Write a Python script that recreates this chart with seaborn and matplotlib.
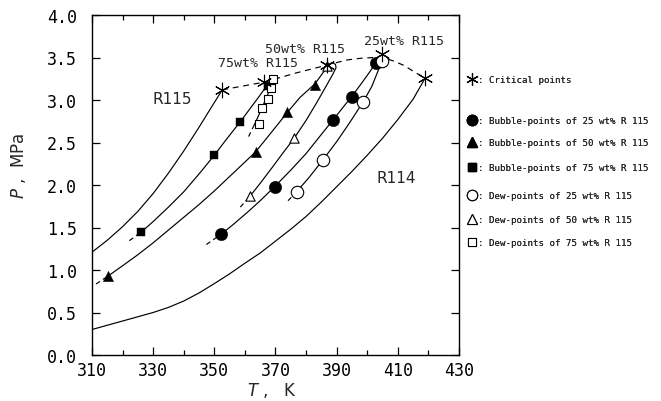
import numpy as np
import pandas as pd
import matplotlib
matplotlib.use("Agg")
import matplotlib.pyplot as plt
import seaborn as sns
from matplotlib.lines import Line2D

# ---------------- data ----------------
# pure-component vapour pressure curves
r115_T = [310, 315, 320, 325, 330, 335, 340, 345, 350, 352.6]
r115_P = [1.21, 1.35, 1.51, 1.69, 1.90, 2.14, 2.40, 2.68, 2.97, 3.12]
r114_T = [310, 315, 320, 325, 330, 335, 340, 345, 350, 355, 360, 365, 370, 375,
          380, 385, 390, 395, 400, 405, 410, 415, 418.9]
r114_P = [0.30, 0.35, 0.40, 0.45, 0.50, 0.56, 0.635, 0.73, 0.84, 0.955, 1.08, 1.20,
          1.34, 1.48, 1.63, 1.80, 1.98, 2.16, 2.35, 2.55, 2.77, 3.01, 3.255]

# mixture envelopes (bubble branch and dew branch, each from low end to top)
b25_T = [347.4, 352.2, 356.0, 361.0, 365.0, 369.7, 375.0, 380.0, 385.0, 388.9,
         392.0, 394.9, 398.0, 400.5, 402.9, 404.5, 405.5]
b25_P = [1.30, 1.42, 1.53, 1.685, 1.815, 1.98, 2.175, 2.37, 2.595, 2.77,
         2.91, 3.04, 3.19, 3.315, 3.44, 3.51, 3.53]
d25_T = [374.1, 376.9, 381.0, 385.6, 390.0, 394.0, 398.7, 401.5, 403.5, 404.7, 405.4, 405.5]
d25_P = [1.815, 1.92, 2.09, 2.30, 2.51, 2.72, 2.98, 3.16, 3.34, 3.46, 3.52, 3.53]

b50_T = [311.3, 315.3, 320.0, 325.0, 330.0, 335.0, 340.0, 345.0, 350.0, 355.0, 360.0,
         363.5, 368.0, 373.9, 378.0, 382.9, 385.5, 387.2, 388.4]
b50_P = [0.835, 0.93, 1.05, 1.18, 1.32, 1.47, 1.62, 1.77, 1.93, 2.10, 2.27,
         2.39, 2.59, 2.855, 3.03, 3.19, 3.32, 3.40, 3.44]
d50_T = [358.5, 361.7, 365.0, 369.0, 372.5, 376.1, 380.0, 383.5, 386.5, 388.7, 389.8, 389.6, 388.4]
d50_P = [1.74, 1.87, 2.02, 2.21, 2.38, 2.55, 2.76, 2.97, 3.16, 3.30, 3.38, 3.42, 3.44]

b75_T = [322.2, 326.0, 330.0, 335.0, 340.0, 345.0, 350.0, 354.0, 358.4, 361.5,
         364.2, 366.2, 367.7, 368.7, 369.3]
b75_P = [1.345, 1.443, 1.57, 1.74, 1.92, 2.13, 2.35, 2.54, 2.74, 2.89,
         3.02, 3.12, 3.19, 3.25, 3.28]
d75_T = [361.2, 363.5, 365.5, 367.3, 368.6, 369.3, 369.3]
d75_P = [2.57, 2.74, 2.90, 3.05, 3.17, 3.26, 3.28]

# measured points
bub25_T = [352.2, 369.7, 388.9, 394.9, 402.9]
bub25_P = [1.42, 1.98, 2.77, 3.04, 3.44]
bub50_T = [315.3, 363.5, 373.9, 382.9]
bub50_P = [0.93, 2.385, 2.855, 3.18]
bub75_T = [326.0, 349.9, 358.4, 367.7]
bub75_P = [1.443, 2.35, 2.74, 3.17]
dew25_T = [376.9, 385.6, 398.7, 404.7]
dew25_P = [1.92, 2.30, 2.98, 3.46]
dew50_T = [361.7, 376.1, 386.8]
dew50_P = [1.87, 2.55, 3.40]
dew75_T = [364.6, 365.5, 367.7, 368.6, 369.2]
dew75_P = [2.72, 2.91, 3.01, 3.14, 3.25]

# critical points and critical locus
crit_T = [352.6, 366.3, 386.8, 404.7, 418.9]
crit_P = [3.12, 3.21, 3.41, 3.54, 3.255]
locus_T = [352.6, 366.3, 376.9, 386.8, 393.2, 397.6, 402.0, 405.0, 408.5, 411.8, 415.0, 418.9]
locus_P = [3.12, 3.21, 3.32, 3.41, 3.47, 3.49, 3.50, 3.50, 3.46, 3.41, 3.34, 3.255]

x_ticks = [310, 330, 350, 370, 390, 410, 430]
y_ticks = [0.0, 0.5, 1.0, 1.5, 2.0, 2.5, 3.0, 3.5, 4.0]

curve_labels = ["R115", "75wt% R115", "50wt% R115", "25wt% R115", "R114"]
curve_label_T = [336.2, 364.3, 379.7, 411.9, 409.6]
curve_label_P = [3.02, 3.44, 3.61, 3.70, 2.09]

legend_labels = [": Critical points",
                 ": Bubble-points of 25 wt% R 115",
                 ": Bubble-points of 50 wt% R 115",
                 ": Bubble-points of 75 wt% R 115",
                 ": Dew-points of 25 wt% R 115",
                 ": Dew-points of 50 wt% R 115",
                 ": Dew-points of 75 wt% R 115"]

# ---------------- plotting ----------------
sns.set_theme(style="ticks")
plt.rcParams["font.family"] = ["DejaVu Sans"]
plt.rcParams["axes.linewidth"] = 1.0

fig = plt.figure(figsize=(6.61, 4.02), dpi=100)
ax = fig.add_axes([92 / 661, 46 / 402, 367 / 661, 340 / 402])

LW = 0.85
start_dash = (0, (4, 3, 3000, 1))

def line(T, P, ls="-"):
    sns.lineplot(x=T, y=P, ax=ax, sort=False, estimator=None, color="black",
                 linewidth=LW, linestyle=ls, legend=False)

line(r115_T, r115_P)
line(r114_T, r114_P)
for T, P in [(b25_T, b25_P), (d25_T, d25_P), (b50_T, b50_P), (d50_T, d50_P),
             (b75_T, b75_P), (d75_T, d75_P)]:
    line(T, P, start_dash)
line(locus_T, locus_P, (0, (5, 4)))

def pts(T, P, marker, s, filled, lw=0.8):
    if filled:
        sns.scatterplot(x=T, y=P, ax=ax, marker=marker, s=s, color="black",
                        edgecolor="black", linewidth=0.3, zorder=5, legend=False)
    else:
        sns.scatterplot(x=T, y=P, ax=ax, marker=marker, s=s, color="white",
                        edgecolor="black", linewidth=lw, zorder=5, legend=False)

pts(bub25_T, bub25_P, "o", 80, True)
pts(bub50_T, bub50_P, "^", 55, True)
pts(bub75_T, bub75_P, "s", 32, True)
pts(dew25_T, dew25_P, "o", 80, False)
pts(dew50_T, dew50_P, "^", 45, False)
pts(dew75_T, dew75_P, "s", 28, False)
ast = (6, 2, 0)
sns.scatterplot(x=crit_T, y=crit_P, ax=ax, marker=ast, s=110, color="black",
                edgecolor="black", linewidth=0.8, zorder=6, legend=False)

for s, T, P in zip(curve_labels, curve_label_T, curve_label_P):
    fs = 11 if s in ("R115", "R114") else 9.5
    fam = "DejaVu Sans" if s in ("R115", "R114") else "DejaVu Sans Mono"
    ax.text(T, P, s, ha="center", va="center", fontsize=fs, family=fam)

ax.set_xlim(310, 430)
ax.set_ylim(0, 4)
ax.set_xticks(x_ticks)
ax.set_xticks(np.arange(310, 431, 10), minor=True)
ax.set_yticks(y_ticks)
ax.set_xticklabels([str(v) for v in x_ticks], family="DejaVu Sans Mono", fontsize=12)
ax.set_yticklabels([f"{v:.1f}" for v in y_ticks], family="DejaVu Sans Mono", fontsize=12)
ax.tick_params(which="both", direction="in", top=True, right=True, width=0.9,
               colors="black")
ax.tick_params(which="major", length=6)
ax.tick_params(which="minor", length=3.5)
ax.tick_params(axis="x", which="major", pad=4)
ax.tick_params(axis="y", which="major", pad=11)
for sp in ax.spines.values():
    sp.set_color("black")

ax.set_xlabel(r"$\mathit{T}$ ,   K", fontsize=12)
ax.set_ylabel(r"$\mathit{P}$ ,  MPa", fontsize=12)
ax.xaxis.set_label_coords(0.49, -0.075)
ax.yaxis.set_label_coords(-0.175, 0.56)

# legend entries, one per row
handles = [
    Line2D([], [], marker=ast, linestyle="none", markersize=9, color="black", markeredgewidth=0.8),
    Line2D([], [], marker="o", linestyle="none", markersize=7.5, color="black"),
    Line2D([], [], marker="^", linestyle="none", markersize=6.5, color="black"),
    Line2D([], [], marker="s", linestyle="none", markersize=5.5, color="black"),
    Line2D([], [], marker="o", linestyle="none", markersize=7.5, markerfacecolor="white",
           markeredgecolor="black", markeredgewidth=0.8),
    Line2D([], [], marker="^", linestyle="none", markersize=6.5, markerfacecolor="white",
           markeredgecolor="black", markeredgewidth=0.8),
    Line2D([], [], marker="s", linestyle="none", markersize=5.5, markerfacecolor="white",
           markeredgecolor="black", markeredgewidth=0.8),
]
row_y = [80.7, 121.7, 143.3, 168.3, 196.7, 221.0, 243.3]
for h, lab, yy in zip(handles, legend_labels, row_y):
    leg = fig.legend(handles=[h], labels=[lab], loc="center left",
                     bbox_to_anchor=(467 / 661, 1 - yy / 402), frameon=False,
                     handlelength=1.1, handletextpad=0.1, borderpad=0, borderaxespad=0,
                     prop={"family": "DejaVu Sans Mono", "size": 6.6})
    fig.add_artist(leg)

fig.savefig("out.png", dpi=100)
